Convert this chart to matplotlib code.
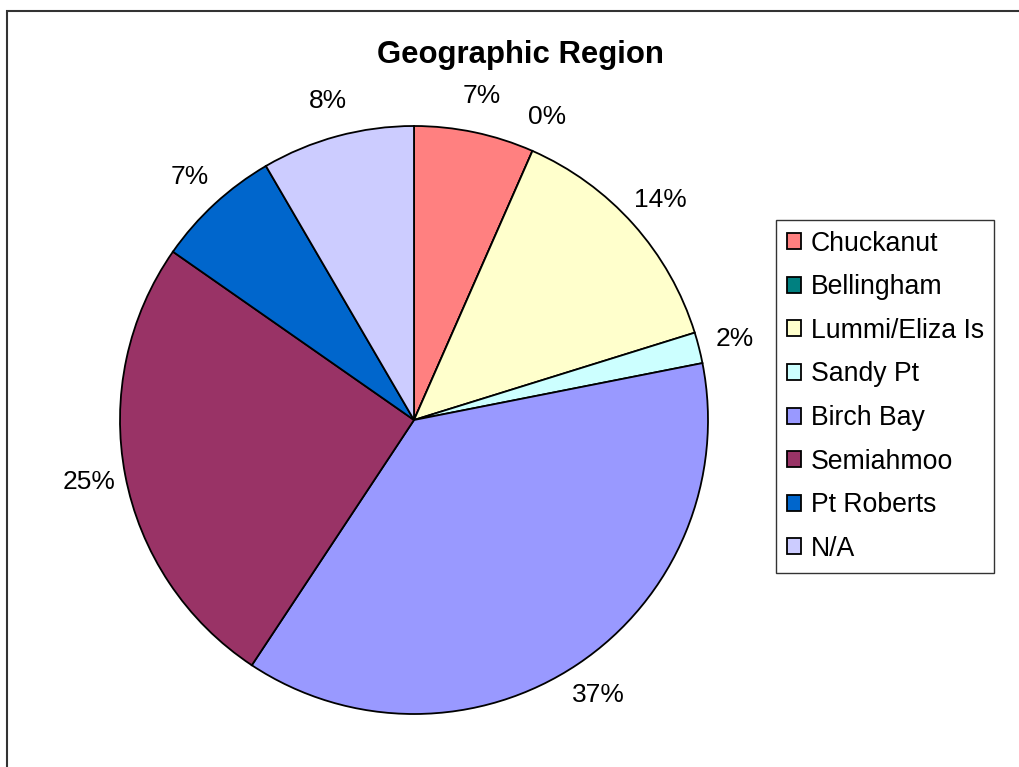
import matplotlib
matplotlib.use("Agg")
import matplotlib.pyplot as plt
from matplotlib.patches import Rectangle

# ---------------------------------------------------------------------------
# Data (percent share per region)
# ---------------------------------------------------------------------------
regions = ["Chuckanut", "Bellingham", "Lummi/Eliza Is", "Sandy Pt",
           "Birch Bay", "Semiahmoo", "Pt Roberts", "N/A"]
shares = [6.6, 0.0, 13.6, 1.7, 37.4, 25.4, 6.9, 8.4]
colors = ["#FF8080", "#008080", "#FFFFCC", "#CCFFFF",
          "#9999FF", "#993366", "#0066CC", "#CCCCFF"]
title = "Geographic Region"

plt.rcParams["font.family"] = ["Liberation Sans", "DejaVu Sans"]

W, H = 1020, 767
fig = plt.figure(figsize=(W / 100, H / 100), dpi=100, facecolor="white")

# chart area frame (only top/left visible in the crop)
fig.patches.append(Rectangle((7.5 / W, -0.2), 1.2, 1.2 - 10.5 / H,
                             transform=fig.transFigure, fill=False,
                             edgecolor="#333333", linewidth=1.5))

# pie axes placed so the pie sits at (414, 420) px with radius 294 px
cx, cy, r = 414, 420, 294
ax = fig.add_axes([(cx - r) / W, (H - cy - r) / H, 2 * r / W, 2 * r / H])
wedges, _, autotexts = ax.pie(
    shares, colors=colors, startangle=90, counterclock=False,
    autopct="%.0f%%", pctdistance=1.125,
    wedgeprops=dict(edgecolor="black", linewidth=1.3),
    textprops=dict(fontsize=19, color="black"))
ax.set_xlim(-1, 1)
ax.set_ylim(-1, 1)
ax.set_aspect("equal")
ax.axis("off")

fig.text(520 / W, 1 - 55 / H, title, ha="center", va="center",
         fontsize=22.4, fontweight="bold")

leg = fig.legend(wedges, regions, loc="upper left",
                 bbox_to_anchor=(776 / W, 1 - 220 / H), borderaxespad=0,
                 fontsize=19.2, frameon=True, fancybox=False,
                 edgecolor="black", handlelength=0.55, handleheight=0.55,
                 handletextpad=0.35, labelspacing=0.66, borderpad=0.4)
leg.get_frame().set_linewidth(1.0)

fig.savefig("out.png", dpi=100, facecolor="white")
